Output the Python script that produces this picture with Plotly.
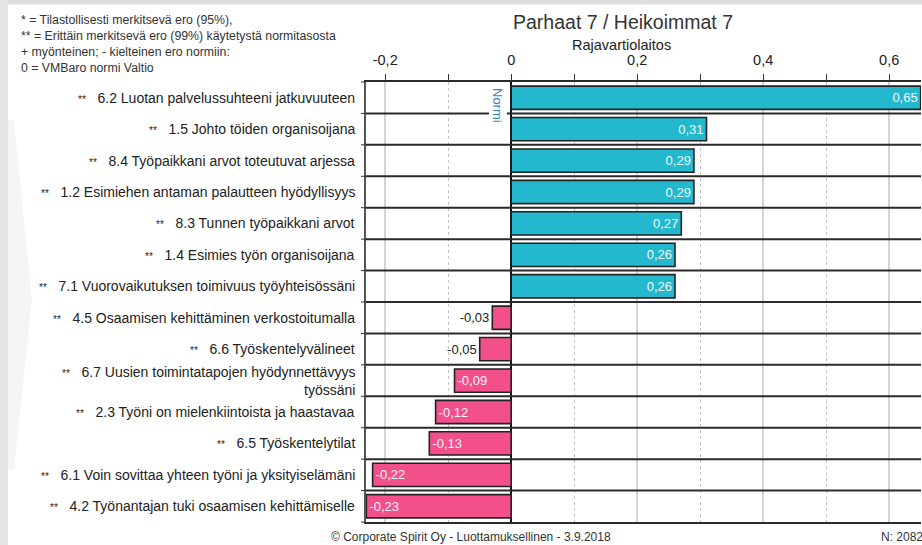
import plotly.graph_objects as go

# ---------------- data ----------------
labels = [
    "6.2 Luotan palvelussuhteeni jatkuvuuteen",
    "1.5 Johto töiden organisoijana",
    "8.4 Työpaikkani arvot toteutuvat arjessa",
    "1.2 Esimiehen antaman palautteen hyödyllisyys",
    "8.3 Tunnen työpaikkani arvot",
    "1.4 Esimies työn organisoijana",
    "7.1 Vuorovaikutuksen toimivuus työyhteisössäni",
    "4.5 Osaamisen kehittäminen verkostoitumalla",
    "6.6 Työskentelyvälineet",
    "6.7 Uusien toimintatapojen hyödynnettävyys<br>työssäni",
    "2.3 Työni on mielenkiintoista ja haastavaa",
    "6.5 Työskentelytilat",
    "6.1 Voin sovittaa yhteen työni ja yksityiselämäni",
    "4.2 Työnantajan tuki osaamisen kehittämiselle",
]
significance = ["**"] * 14
values = [0.65, 0.31, 0.29, 0.29, 0.27, 0.26, 0.26,
          -0.03, -0.05, -0.09, -0.12, -0.13, -0.22, -0.23]
tick_vals = [-0.2, 0, 0.2, 0.4, 0.6]
tick_text = ["-0,2", "0", "0,2", "0,4", "0,6"]

title_text = "Parhaat 7 / Heikoimmat 7"
subtitle_text = "Rajavartiolaitos"
note_lines = [
    "* = Tilastollisesti merkitsevä ero (95%),",
    "** = Erittäin merkitsevä ero (99%) käytetystä normitasosta",
    "+ myönteinen; - kielteinen ero normiin:",
    "0 = VMBaro normi Valtio",
]
footer_text = "© Corporate Spirit Oy - Luottamuksellinen - 3.9.2018"
n_text = "N: 2082"

# ---------------- layout geometry ----------------
W_FIG, H_FIG = 922, 545
L, T, R_EDGE, B_EDGE = 366, 82, 921, 522
PW, PH = R_EDGE - L, B_EDGE - T


def px_x(p):
    return (p - L) / PW


def px_y(p):
    return (B_EDGE - p) / PH


def rect_path(x0, y0, x1, y1):
    return (f"M {px_x(x0)},{px_y(y0)} L {px_x(x1)},{px_y(y0)} "
            f"L {px_x(x1)},{px_y(y1)} L {px_x(x0)},{px_y(y1)} Z")


FONT = "Liberation Sans, Arial, sans-serif"
POS_COL = "#24b8cf"
NEG_COL = "#f3508b"

colors = [POS_COL if v >= 0 else NEG_COL for v in values]
texts = [f"{v:.2f}".replace(".", ",") for v in values]
textpos = ["outside" if -0.06 < v < 0 else "inside" for v in values]

fig = go.Figure()
fig.add_trace(go.Bar(
    orientation="h",
    x=values,
    y=labels,
    width=0.74,
    marker=dict(color=colors, line=dict(color="#222222", width=1.6)),
    text=texts,
    textposition=textpos,
    insidetextanchor="end",
    insidetextfont=dict(color="#f4f8fa", size=13, family=FONT),
    outsidetextfont=dict(color="#222222", size=13, family=FONT),
    constraintext="none",
    cliponaxis=False,
    hoverinfo="skip",
))

shapes = []
# page frame strips
shapes.append(dict(type="path", xref="paper", yref="paper",
                   path=rect_path(0, 0, W_FIG, 4.5),
                   fillcolor="#dedede", line=dict(width=0), layer="above"))
shapes.append(dict(type="path", xref="paper", yref="paper",
                   path=rect_path(0, 0, 8, H_FIG),
                   fillcolor="#e4e4e4", line=dict(width=0), layer="above"))
# faint watermark chevron
shapes.append(dict(type="path", xref="paper", yref="paper",
                   path=(f"M {px_x(8)},{px_y(120)} L {px_x(14)},{px_y(120)} "
                         f"L {px_x(32)},{px_y(300)} L {px_x(14)},{px_y(470)} "
                         f"L {px_x(8)},{px_y(470)} Z"),
                   fillcolor="#f5f5f5", line=dict(width=0), layer="below"))

n = len(labels)
# row separators
for i in range(n - 1):
    shapes.append(dict(type="line", xref="paper", yref="paper",
                       x0=0, x1=1, y0=1 - (i + 1) / n, y1=1 - (i + 1) / n,
                       line=dict(color="#2a2a2a", width=2), layer="above"))
# left ticks at row boundaries
for i in range(n + 1):
    shapes.append(dict(type="line", xref="paper", yref="paper",
                       x0=px_x(361), x1=0, y0=1 - i / n, y1=1 - i / n,
                       line=dict(color="#333333", width=1)))

annotations = []
# category labels
for lab, sig in zip(labels, significance):
    txt = (f"<span style='font-size:10px'>{sig}</span>\u00a0\u00a0 " + lab)
    annotations.append(dict(xref="paper", yref="y", x=px_x(357), y=lab,
                            text=txt, showarrow=False, xanchor="right",
                            yanchor="middle", align="right",
                            font=dict(family=FONT, size=14, color="#222222")))
# Normi label
annotations.append(dict(xref="x", yref="y", x=0, y=labels[0],
                        yshift=-8, xshift=-4, text="Normi", textangle=90,
                        showarrow=False, xanchor="right", yanchor="middle",
                        bgcolor="white",
                        font=dict(family=FONT, size=13, color="#3a7fc0")))
# titles
annotations.append(dict(xref="paper", yref="paper", x=px_x(623), y=px_y(22),
                        text=title_text, showarrow=False, xanchor="center",
                        yanchor="middle",
                        font=dict(family=FONT, size=19.5, color="#333333")))
annotations.append(dict(xref="paper", yref="paper", x=px_x(621), y=px_y(45),
                        text=subtitle_text, showarrow=False, xanchor="center",
                        yanchor="middle",
                        font=dict(family=FONT, size=14.5, color="#222222")))
# notes
for k, line in enumerate(note_lines):
    annotations.append(dict(xref="paper", yref="paper", x=px_x(19),
                            y=px_y(20 + 16 * k), text=line, showarrow=False,
                            xanchor="left", yanchor="middle",
                            font=dict(family=FONT, size=12.3, color="#333333")))
# footer
annotations.append(dict(xref="paper", yref="paper", x=px_x(471), y=px_y(537),
                        text=footer_text, showarrow=False, xanchor="center",
                        yanchor="middle",
                        font=dict(family=FONT, size=12, color="#333333")))
annotations.append(dict(xref="paper", yref="paper", x=px_x(879), y=px_y(537),
                        text=n_text, showarrow=False, xanchor="left",
                        yanchor="middle",
                        font=dict(family=FONT, size=12, color="#333333")))

fig.update_layout(
    width=W_FIG, height=H_FIG,
    margin=dict(l=L, r=W_FIG - R_EDGE, t=T, b=H_FIG - B_EDGE, pad=0,
                autoexpand=False),
    paper_bgcolor="white", plot_bgcolor="white",
    showlegend=False,
    font=dict(family=FONT, color="#222222"),
    shapes=shapes,
    annotations=annotations,
    bargap=0.26,
)
fig.update_xaxes(
    side="top",
    range=[-0.2305, 0.6505],
    tickvals=tick_vals, ticktext=tick_text,
    tickfont=dict(family=FONT, size=14.5, color="#222222"),
    ticks="outside", ticklen=6, tickcolor="#333333", tickwidth=1,
    ticklabelstandoff=3,
    showgrid=True, gridcolor="#d4d4d4", gridwidth=2,
    minor=dict(dtick=0.1, tick0=0, ticks="outside", ticklen=6,
               tickcolor="#333333", showgrid=True, gridcolor="#c4c4c4",
               griddash="dot", gridwidth=1),
    zeroline=True, zerolinecolor="#111111", zerolinewidth=2,
    showline=True, linecolor="#2a2a2a", linewidth=2, mirror=True,
    automargin=False,
    fixedrange=True,
)
fig.update_yaxes(
    categoryorder="array", categoryarray=labels,
    range=[n - 0.5, -0.5], autorange=False,
    showticklabels=False, ticks="",
    showgrid=False, zeroline=False,
    showline=True, linecolor="#555555", linewidth=1.5,
    automargin=False,
    fixedrange=True,
)

fig.write_html("out.html",
               config={"displayModeBar": False},
               post_script="document.body.style.margin='0';"
                           "document.body.style.overflow='hidden';")
